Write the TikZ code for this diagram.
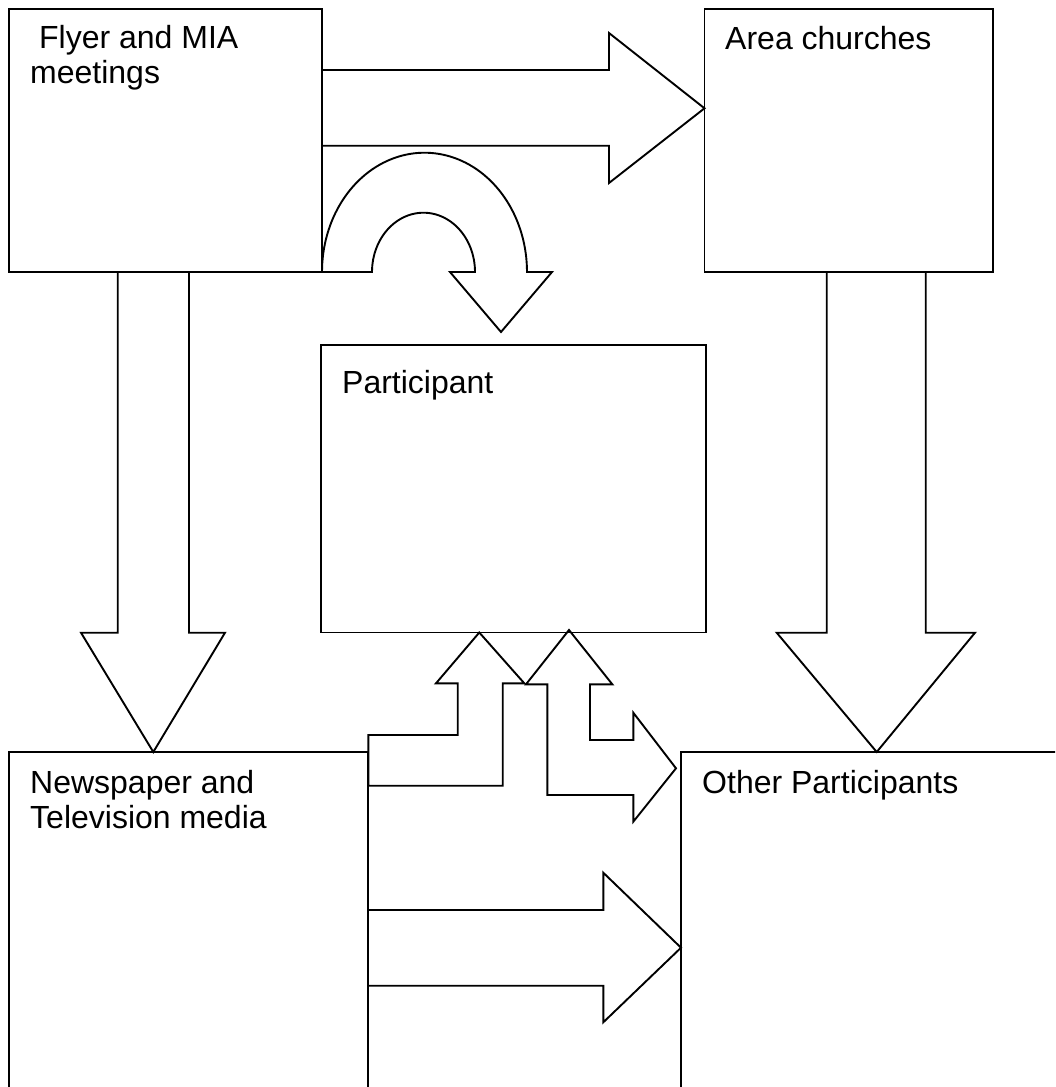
\documentclass[tikz,border=0pt]{standalone}
\usepackage{fontspec}
\setmainfont{Liberation Sans}
\begin{document}
\begin{tikzpicture}[x=1pt,y=-1pt,
  box/.style={draw, line width=1.9pt, inner sep=0pt, outer sep=0pt, anchor=north west},
  blockarrow/.style={draw, line width=1.9pt, line join=miter},
  lbl/.style={anchor=base west, align=left, inner sep=0pt,
    font=\fontsize{32}{35}\selectfont},
]
\useasboundingbox (0,0) rectangle (1055,1087);
\clip (0,0) rectangle (1055,1087);

% boxes
\node[box, minimum width=313pt, minimum height=263pt] (b1) at (9,9) {};
\node[box, minimum width=288.5pt, minimum height=263pt] (b2) at (704.5,9) {};
\node[box, minimum width=385pt, minimum height=287.5pt] (b3) at (321,345) {};
\node[box, minimum width=359.3pt, minimum height=360pt] (b4) at (9,752) {};
\node[box, minimum width=400pt, minimum height=360pt] (b5) at (681,752) {};

% labels (a two-line label sits on the baseline of its last line)
\node[lbl] (t1) at (30,83.3) {\hspace*{0.28em}Flyer and MIA\\meetings};
\node[lbl] (t2) at (725,49.3) {Area churches};
\node[lbl] (t3) at (342,393) {Participant};
\node[lbl] (t4) at (30,828.3) {Newspaper and\\Television media};
\node[lbl] (t5) at (702,793.3) {Other Participants};

% flyer -> churches
\draw[blockarrow] (b1.east |- 0,70) -- (609,70) -- (609,33)
  -- (b2.west |- 0,108.3) -- (609,183) -- (609,145.7) -- (b1.east |- 0,145.7);

% flyer -> participant (u-turn)
\draw[blockarrow] (b1.south east) -- (372,272)
  -- plot[domain=180:360, samples=60] ({423.5+51.5*cos(\x)}, {272+59.3*sin(\x)})
  -- (450,272) -- (501,332) -- (552,272) -- (527,272)
  -- plot[domain=360:180, samples=80] ({424.5+102.5*cos(\x)}, {272+119.3*sin(\x)})
  -- cycle;

% flyer -> newspaper
\draw[blockarrow] (117.7,0 |- b1.south) -- (117.7,632.7) -- (81,632.7)
  -- (153.3,0 |- b4.north) -- (225,632.7) -- (189,632.7) -- (189,0 |- b1.south);

% churches -> other participants
\draw[blockarrow] (826.7,0 |- b2.south) -- (826.7,632.7) -- (776.7,632.7)
  -- (876.7,0 |- b5.north) -- (975,632.7) -- (925.7,632.7) -- (925.7,0 |- b2.south);

% newspaper -> participant
\draw[blockarrow] (b4.east |- 0,735) -- (457.7,735) -- (457.7,683.3) -- (436,683.3)
  -- (479.3,0 |- b3.south) -- (524.3,683.3) -- (502.7,683.3) -- (502.7,785.7)
  -- (b4.east |- 0,785.7) -- cycle;

% participant <-> other participants
\coordinate (upTip) at (569,630);
\coordinate (rightTip) at (676,768.3);
\draw[blockarrow] (upTip) -- (612.3,684.3) -- (590,684.3) -- (590,740) -- (633.3,740)
  -- (633.3,712.7) -- (rightTip) -- (633.3,821.7) -- (633.3,795) -- (547.3,795)
  -- (547.3,684.3) -- (526,684.3) -- cycle;

% newspaper -> other participants
\draw[blockarrow] (b4.east |- 0,910) -- (603.3,910) -- (603.3,872.7)
  -- (b5.west |- 0,947.7) -- (603.3,1022.3) -- (603.3,985.7) -- (b4.east |- 0,985.7);
\end{tikzpicture}
\end{document}
